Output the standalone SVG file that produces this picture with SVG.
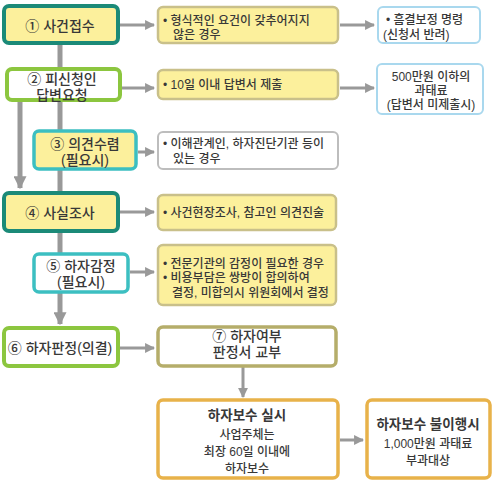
<svg xmlns="http://www.w3.org/2000/svg" width="500" height="484" viewBox="0 0 500 484">
<style>
text{font-family:"Liberation Sans","Noto Sans CJK KR",sans-serif;fill:#383838;font-weight:500}
.t{font-size:14px;text-anchor:middle}
.s{font-size:12px}
.c{text-anchor:middle}
.b{font-weight:bold;font-size:13.5px}
.ylw{fill:#fcf09c;stroke:#c9c08a;stroke-width:2.5}
.wht{fill:#fff;stroke:#bdbdbd;stroke-width:2}
.blu{fill:#fff;stroke:#a9d8ee;stroke-width:2}
.teal{fill:#fcf09c;stroke:#1b8a78;stroke-width:4}
.grn{fill:#fff;stroke:#8cc63f;stroke-width:4}
.cyan{stroke:#3cbfc1;stroke-width:3.5}
.olv{fill:#fff;stroke:#b5ad6a;stroke-width:3.5}
.org{fill:#fff;stroke:#e8b24a;stroke-width:3.5}
.ln{stroke:#999;fill:none}
</style>
<defs>
<marker id="ah" viewBox="0 0 10 10" refX="9" refY="5" markerWidth="3.3" markerHeight="3.3" orient="auto" markerUnits="strokeWidth"><path d="M0,0L10,5L0,10z" fill="#999"/></marker>
<marker id="av" viewBox="0 0 10 10" refX="9" refY="5" markerWidth="2.6" markerHeight="2.6" orient="auto" markerUnits="strokeWidth"><path d="M0,0L10,5L0,10z" fill="#999"/></marker>
</defs>
<g id="connectors">
<path class="ln" d="M60,43V193" stroke-width="5"/>
<path class="ln" d="M60,231V324" stroke-width="5" marker-end="url(#av)"/>
<path class="ln" d="M20,100V188" stroke-width="5" marker-end="url(#av)"/>
<path class="ln" d="M120,25H154" stroke-width="3" marker-end="url(#ah)"/>
<path class="ln" d="M340,25H374" stroke-width="3" marker-end="url(#ah)"/>
<path class="ln" d="M122,88H154" stroke-width="3" marker-end="url(#ah)"/>
<path class="ln" d="M340,88H374" stroke-width="3" marker-end="url(#ah)"/>
<path class="ln" d="M138,152H154" stroke-width="3" marker-end="url(#ah)"/>
<path class="ln" d="M120,212H154" stroke-width="3" marker-end="url(#ah)"/>
<path class="ln" d="M130,272H154" stroke-width="3" marker-end="url(#ah)"/>
<path class="ln" d="M120,348H154" stroke-width="3" marker-end="url(#ah)"/>
<path class="ln" d="M243,367V397" stroke-width="3" marker-end="url(#ah)"/>
<path class="ln" d="M340,440H363" stroke-width="3" marker-end="url(#ah)"/>
</g>
<g id="n1"><rect class="teal" x="4" y="6" width="114" height="37" rx="5"/><text class="t" x="60" y="30.5">① 사건접수</text></g>
<g id="n1a"><rect class="ylw" x="158" y="7" width="180" height="36" rx="5"/><text class="s" x="163" y="25">• 형식적인 요건이 갖추어지지</text><text class="s" x="173" y="39">않은 경우</text></g>
<g id="n1b"><rect class="blu" x="378" y="7" width="102" height="36" rx="5"/><text class="s" x="386" y="24">• 흠결보정 명령</text><text class="s" x="383" y="39">(신청서 반려)</text></g>
<g id="n2"><rect class="grn" x="7" y="69" width="113" height="31" rx="5"/><text class="t" x="62" y="83.5">② 피신청인</text><text class="t" x="62" y="99.5">답변요청</text></g>
<g id="n2a"><rect class="ylw" x="158" y="70" width="180" height="29" rx="5"/><text class="s" x="163" y="89">• 10일 이내 답변서 제출</text></g>
<g id="n2b"><rect class="blu" x="377" y="64" width="106" height="50" rx="5"/><text class="s c" x="431" y="81">500만원 이하의</text><text class="s c" x="431" y="95">과태료</text><text class="s c" x="431" y="109">(답변서 미제출시)</text></g>
<g id="n3"><rect class="teal cyan" x="34" y="131" width="102" height="38" rx="5"/><text class="t" x="85" y="148.5">③ 의견수렴</text><text class="t" x="85" y="164.5">(필요시)</text></g>
<g id="n3a"><rect class="wht" x="158" y="132" width="180" height="37" rx="5"/><text class="s" x="163" y="148">• 이해관계인, 하자진단기관 등이</text><text class="s" x="173" y="163">있는 경우</text></g>
<g id="n4"><rect class="teal" x="4" y="193" width="114" height="38" rx="5"/><text class="t" x="60" y="217.5">④ 사실조사</text></g>
<g id="n4a"><rect class="ylw" x="158" y="195" width="178" height="35" rx="5"/><text class="s" x="163" y="217">• 사건현장조사, 참고인 의견진술</text></g>
<g id="n5"><rect class="cyan" fill="#fff" x="34" y="254" width="94" height="38" rx="5"/><text class="t" x="81" y="270.5">⑤ 하자감정</text><text class="t" x="81" y="286.5">(필요시)</text></g>
<g id="n5a"><rect class="ylw" x="158" y="245" width="178" height="60" rx="5"/><text class="s" x="163" y="268">• 전문기관의 감정이 필요한 경우</text><text class="s" x="163" y="282">• 비용부담은 쌍방이 합의하여</text><text class="s" x="172" y="296.5">결정, 미합의시 위원회에서 결정</text></g>
<g id="n6"><rect class="grn" x="4" y="328" width="114" height="38" rx="5"/><text class="t" x="60" y="352.5">⑥ 하자판정(의결)</text></g>
<g id="n7"><rect class="olv" x="158" y="327" width="178" height="39" rx="5"/><text class="t" x="247" y="341">⑦ 하자여부</text><text class="t" x="247" y="357">판정서 교부</text></g>
<g id="n8"><rect class="org" x="158" y="400" width="180" height="78" rx="5"/><text class="b c" x="247" y="420">하자보수 실시</text><text class="s c" x="247" y="439">사업주체는</text><text class="s c" x="247" y="456">최장 60일 이내에</text><text class="s c" x="247" y="473">하자보수</text></g>
<g id="n9"><rect class="org" x="367" y="400" width="123" height="78" rx="5"/><text class="b c" x="428" y="429">하자보수 불이행시</text><text class="s c" x="428" y="448">1,000만원 과태료</text><text class="s c" x="428" y="465">부과대상</text></g>
</svg>
